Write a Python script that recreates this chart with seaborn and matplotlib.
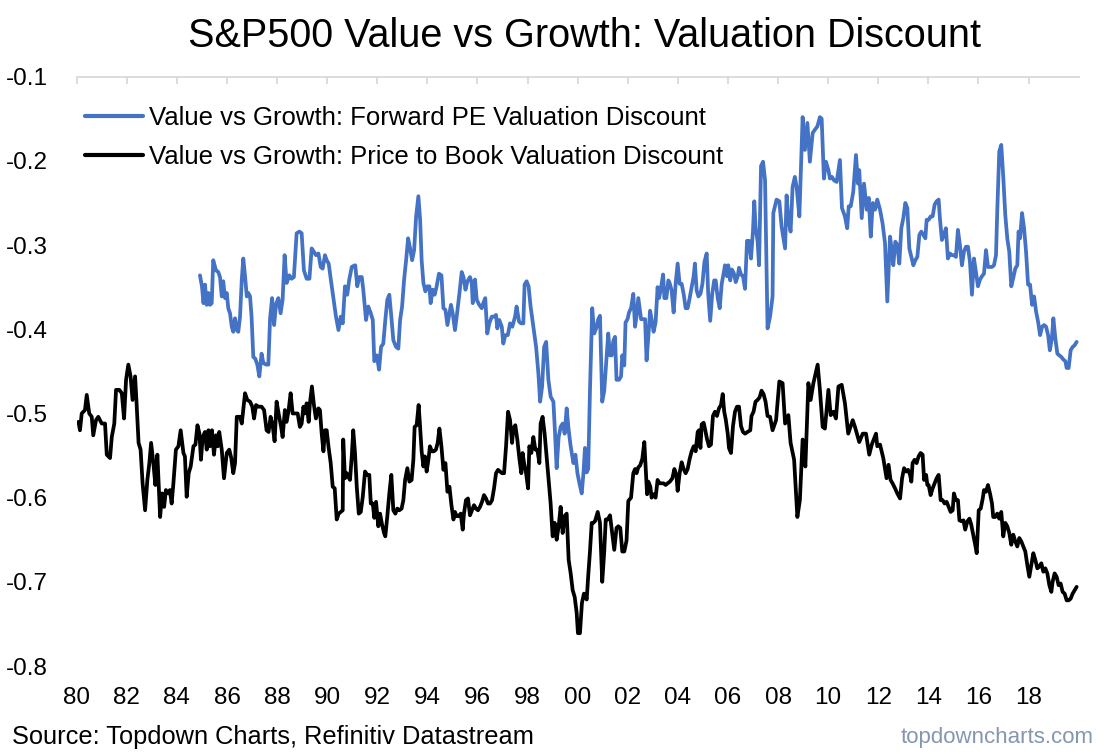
import seaborn as sns
import pandas as pd
import matplotlib
matplotlib.use("Agg")
import matplotlib.pyplot as plt

# Value vs Growth: Forward PE valuation discount (decimal year, value)
pe_years = [
    1984.92, 1985.00, 1985.06, 1985.12, 1985.19, 1985.26, 1985.32, 1985.39, 1985.45, 1985.56,
    1985.65, 1985.72, 1985.79, 1985.85, 1985.92, 1985.99, 1986.05, 1986.12, 1986.19, 1986.25,
    1986.32, 1986.39, 1986.45, 1986.52, 1986.59, 1986.65, 1986.72, 1986.79, 1986.85, 1986.92,
    1986.98, 1987.05, 1987.13, 1987.21, 1987.29, 1987.38, 1987.45, 1987.56, 1987.65, 1987.72,
    1987.80, 1987.88, 1987.96, 1988.05, 1988.14, 1988.22, 1988.30, 1988.38, 1988.49, 1988.58,
    1988.67, 1988.78, 1988.89, 1988.98, 1989.07, 1989.18, 1989.29, 1989.38, 1989.47, 1989.55,
    1989.65, 1989.74, 1989.82, 1989.91, 1989.98, 1990.06, 1990.14, 1990.24, 1990.35, 1990.45,
    1990.54, 1990.62, 1990.71, 1990.80, 1990.88, 1990.98, 1991.04, 1991.12, 1991.20, 1991.28,
    1991.38, 1991.44, 1991.55, 1991.64, 1991.74, 1991.82, 1991.88, 1991.98, 1992.07, 1992.15,
    1992.24, 1992.32, 1992.40, 1992.48, 1992.56, 1992.64, 1992.75, 1992.84, 1992.91, 1992.99,
    1993.07, 1993.15, 1993.23, 1993.31, 1993.39, 1993.47, 1993.55, 1993.64, 1993.71, 1993.77,
    1993.84, 1993.92, 1994.00, 1994.08, 1994.13, 1994.21, 1994.29, 1994.37, 1994.46, 1994.56,
    1994.64, 1994.72, 1994.80, 1994.88, 1994.94, 1995.01, 1995.10, 1995.17, 1995.28, 1995.37,
    1995.44, 1995.52, 1995.60, 1995.70, 1995.77, 1995.81, 1995.90, 1995.97, 1996.07, 1996.17,
    1996.23, 1996.31, 1996.39, 1996.47, 1996.57, 1996.66, 1996.74, 1996.79, 1996.87, 1996.97,
    1997.03, 1997.11, 1997.21, 1997.30, 1997.39, 1997.50, 1997.56, 1997.66, 1997.74, 1997.83,
    1997.88, 1997.96, 1998.04, 1998.12, 1998.23, 1998.34, 1998.43, 1998.50, 1998.58, 1998.66,
    1998.74, 1998.83, 1998.92, 1999.03, 1999.09, 1999.16, 1999.24, 1999.32, 1999.40, 1999.48,
    1999.56, 1999.64, 1999.72, 1999.83, 1999.91, 1999.99, 2000.07, 2000.16, 2000.23, 2000.29,
    2000.36, 2000.42, 2000.49, 2000.58, 2000.66, 2000.76, 2000.82, 2000.89, 2000.98, 2001.06,
    2001.16, 2001.22, 2001.29, 2001.36, 2001.42, 2001.49, 2001.55, 2001.65, 2001.73, 2001.78,
    2001.86, 2001.91, 2001.99, 2002.05, 2002.13, 2002.22, 2002.29, 2002.35, 2002.42, 2002.53,
    2002.62, 2002.69, 2002.75, 2002.82, 2002.89, 2002.95, 2003.03, 2003.11, 2003.19, 2003.25,
    2003.33, 2003.41, 2003.46, 2003.54, 2003.62, 2003.68, 2003.75, 2003.83, 2003.91, 2003.99,
    2004.07, 2004.15, 2004.23, 2004.31, 2004.39, 2004.47, 2004.55, 2004.63, 2004.68, 2004.75,
    2004.82, 2004.90, 2004.98, 2005.06, 2005.15, 2005.21, 2005.29, 2005.37, 2005.45, 2005.51,
    2005.59, 2005.67, 2005.75, 2005.83, 2005.88, 2005.96, 2006.01, 2006.09, 2006.15, 2006.23,
    2006.31, 2006.39, 2006.44, 2006.52, 2006.60, 2006.68, 2006.76, 2006.84, 2006.92, 2007.00,
    2007.05, 2007.10, 2007.18, 2007.24, 2007.32, 2007.40, 2007.48, 2007.58, 2007.68, 2007.78,
    2007.81, 2007.94, 2008.05, 2008.14, 2008.28, 2008.34, 2008.41, 2008.50, 2008.58, 2008.67,
    2008.74, 2008.85, 2008.98, 2009.07, 2009.17, 2009.27, 2009.38, 2009.47, 2009.57, 2009.67,
    2009.74, 2009.83, 2009.91, 2010.01, 2010.07, 2010.15, 2010.23, 2010.34, 2010.47, 2010.55,
    2010.67, 2010.76, 2010.82, 2010.90, 2011.00, 2011.11, 2011.19, 2011.24, 2011.34, 2011.43,
    2011.54, 2011.62, 2011.70, 2011.78, 2011.87, 2011.96, 2012.07, 2012.17, 2012.27, 2012.36,
    2012.40, 2012.47, 2012.53, 2012.60, 2012.68, 2012.76, 2012.84, 2012.92, 2013.00, 2013.08,
    2013.16, 2013.24, 2013.32, 2013.40, 2013.48, 2013.56, 2013.64, 2013.72, 2013.80, 2013.88,
    2013.93, 2014.01, 2014.09, 2014.17, 2014.25, 2014.33, 2014.41, 2014.46, 2014.54, 2014.62,
    2014.70, 2014.78, 2014.86, 2014.94, 2015.02, 2015.10, 2015.18, 2015.26, 2015.34, 2015.42,
    2015.50, 2015.58, 2015.66, 2015.74, 2015.82, 2015.90, 2015.98, 2016.06, 2016.14, 2016.22,
    2016.30, 2016.38, 2016.46, 2016.54, 2016.62, 2016.70, 2016.75, 2016.83, 2016.91, 2016.99,
    2017.07, 2017.15, 2017.23, 2017.31, 2017.39, 2017.47, 2017.55, 2017.60, 2017.66, 2017.74,
    2017.82, 2017.90, 2017.98, 2018.06, 2018.14, 2018.22, 2018.30, 2018.38, 2018.46, 2018.54,
    2018.62, 2018.70, 2018.78, 2018.85, 2018.93, 2018.99, 2019.07, 2019.15, 2019.23, 2019.31,
    2019.39, 2019.47, 2019.52, 2019.60, 2019.68, 2019.76, 2019.84, 2019.92,
]
pe_values = [
    -0.336, -0.349, -0.369, -0.347, -0.371, -0.357, -0.371, -0.369, -0.318, -0.330,
    -0.332, -0.338, -0.361, -0.343, -0.363, -0.357, -0.375, -0.381, -0.397, -0.403,
    -0.387, -0.401, -0.403, -0.385, -0.341, -0.316, -0.337, -0.361, -0.357, -0.361,
    -0.385, -0.433, -0.435, -0.442, -0.456, -0.429, -0.440, -0.442, -0.442, -0.387,
    -0.363, -0.395, -0.370, -0.363, -0.381, -0.365, -0.312, -0.345, -0.336, -0.340,
    -0.338, -0.286, -0.284, -0.286, -0.330, -0.340, -0.340, -0.304, -0.308, -0.312,
    -0.310, -0.326, -0.328, -0.312, -0.318, -0.322, -0.340, -0.361, -0.385, -0.401,
    -0.385, -0.393, -0.349, -0.359, -0.341, -0.326, -0.325, -0.324, -0.349, -0.338,
    -0.338, -0.353, -0.389, -0.373, -0.381, -0.389, -0.438, -0.431, -0.448, -0.421,
    -0.417, -0.389, -0.365, -0.359, -0.385, -0.413, -0.421, -0.423, -0.389, -0.373,
    -0.341, -0.318, -0.292, -0.304, -0.318, -0.306, -0.266, -0.242, -0.270, -0.318,
    -0.345, -0.355, -0.349, -0.349, -0.369, -0.353, -0.359, -0.349, -0.334, -0.336,
    -0.375, -0.377, -0.395, -0.381, -0.371, -0.381, -0.401, -0.385, -0.357, -0.332,
    -0.338, -0.353, -0.343, -0.338, -0.345, -0.369, -0.341, -0.365, -0.371, -0.375,
    -0.369, -0.363, -0.405, -0.393, -0.385, -0.385, -0.383, -0.399, -0.389, -0.397,
    -0.417, -0.407, -0.407, -0.393, -0.397, -0.385, -0.373, -0.391, -0.393, -0.393,
    -0.347, -0.343, -0.349, -0.373, -0.397, -0.421, -0.452, -0.486, -0.468, -0.421,
    -0.415, -0.460, -0.480, -0.486, -0.520, -0.565, -0.528, -0.516, -0.512, -0.524,
    -0.494, -0.520, -0.539, -0.559, -0.549, -0.571, -0.583, -0.595, -0.571, -0.541,
    -0.570, -0.566, -0.473, -0.375, -0.405, -0.397, -0.388, -0.384, -0.486, -0.473,
    -0.431, -0.405, -0.431, -0.431, -0.414, -0.409, -0.460, -0.460, -0.456, -0.431,
    -0.443, -0.392, -0.388, -0.380, -0.375, -0.358, -0.397, -0.384, -0.363, -0.388,
    -0.388, -0.388, -0.437, -0.409, -0.378, -0.388, -0.403, -0.392, -0.350, -0.363,
    -0.350, -0.335, -0.363, -0.363, -0.342, -0.346, -0.354, -0.380, -0.346, -0.322,
    -0.346, -0.346, -0.358, -0.375, -0.375, -0.363, -0.350, -0.337, -0.322, -0.354,
    -0.361, -0.358, -0.346, -0.320, -0.310, -0.358, -0.390, -0.358, -0.342, -0.342,
    -0.363, -0.375, -0.346, -0.333, -0.324, -0.337, -0.324, -0.342, -0.329, -0.333,
    -0.344, -0.337, -0.327, -0.335, -0.337, -0.352, -0.295, -0.295, -0.316, -0.282,
    -0.248, -0.278, -0.295, -0.324, -0.206, -0.201, -0.223, -0.399, -0.385, -0.361,
    -0.262, -0.246, -0.248, -0.278, -0.304, -0.241, -0.270, -0.284, -0.231, -0.219,
    -0.231, -0.266, -0.148, -0.187, -0.155, -0.201, -0.167, -0.163, -0.159, -0.148,
    -0.150, -0.221, -0.201, -0.211, -0.221, -0.219, -0.223, -0.225, -0.199, -0.256,
    -0.266, -0.280, -0.254, -0.254, -0.237, -0.193, -0.227, -0.211, -0.268, -0.227,
    -0.258, -0.244, -0.290, -0.250, -0.258, -0.246, -0.258, -0.274, -0.298, -0.367,
    -0.339, -0.290, -0.304, -0.324, -0.296, -0.300, -0.322, -0.280, -0.268, -0.250,
    -0.256, -0.304, -0.314, -0.324, -0.318, -0.314, -0.288, -0.284, -0.288, -0.292,
    -0.270, -0.270, -0.266, -0.266, -0.252, -0.248, -0.246, -0.268, -0.294, -0.288,
    -0.280, -0.316, -0.310, -0.312, -0.312, -0.314, -0.282, -0.300, -0.324, -0.308,
    -0.302, -0.302, -0.320, -0.359, -0.316, -0.332, -0.349, -0.341, -0.337, -0.334,
    -0.306, -0.326, -0.326, -0.326, -0.324, -0.312, -0.260, -0.189, -0.181, -0.219,
    -0.264, -0.292, -0.308, -0.349, -0.339, -0.328, -0.324, -0.284, -0.292, -0.262,
    -0.280, -0.308, -0.347, -0.347, -0.371, -0.361, -0.379, -0.391, -0.407, -0.397,
    -0.395, -0.397, -0.407, -0.425, -0.411, -0.387, -0.411, -0.429, -0.431, -0.433,
    -0.436, -0.438, -0.446, -0.446, -0.425, -0.421, -0.419, -0.415,
]

# Value vs Growth: Price to Book valuation discount (decimal year, value)
pb_years = [
    1980.07, 1980.13, 1980.20, 1980.33, 1980.40, 1980.50, 1980.60, 1980.66, 1980.77, 1980.86,
    1981.00, 1981.13, 1981.20, 1981.33, 1981.40, 1981.50, 1981.57, 1981.70, 1981.80, 1981.89,
    1981.97, 1982.06, 1982.15, 1982.23, 1982.33, 1982.39, 1982.47, 1982.55, 1982.63, 1982.73,
    1982.82, 1982.90, 1982.97, 1983.06, 1983.14, 1983.22, 1983.33, 1983.41, 1983.49, 1983.56,
    1983.66, 1983.72, 1983.79, 1983.86, 1983.96, 1984.06, 1984.15, 1984.26, 1984.32, 1984.39,
    1984.47, 1984.55, 1984.66, 1984.74, 1984.82, 1984.90, 1984.96, 1985.03, 1985.12, 1985.19,
    1985.26, 1985.32, 1985.40, 1985.48, 1985.56, 1985.63, 1985.69, 1985.79, 1985.88, 1985.99,
    1986.09, 1986.17, 1986.25, 1986.32, 1986.39, 1986.52, 1986.59, 1986.72, 1986.81, 1986.92,
    1987.01, 1987.08, 1987.16, 1987.25, 1987.38, 1987.48, 1987.58, 1987.66, 1987.74, 1987.82,
    1987.90, 1987.98, 1988.06, 1988.16, 1988.22, 1988.31, 1988.38, 1988.46, 1988.54, 1988.62,
    1988.71, 1988.82, 1988.91, 1988.98, 1989.05, 1989.11, 1989.18, 1989.26, 1989.31, 1989.39,
    1989.47, 1989.55, 1989.65, 1989.71, 1989.78, 1989.85, 1989.91, 1989.98, 1990.05, 1990.14,
    1990.22, 1990.30, 1990.38, 1990.46, 1990.54, 1990.62, 1990.64, 1990.71, 1990.78, 1990.84,
    1990.91, 1990.98, 1991.04, 1991.11, 1991.18, 1991.26, 1991.34, 1991.42, 1991.51, 1991.60,
    1991.68, 1991.74, 1991.82, 1991.88, 1991.95, 1992.04, 1992.11, 1992.19, 1992.27, 1992.32,
    1992.40, 1992.48, 1992.56, 1992.64, 1992.72, 1992.80, 1992.88, 1992.97, 1993.04, 1993.11,
    1993.20, 1993.28, 1993.37, 1993.44, 1993.49, 1993.57, 1993.65, 1993.70, 1993.77, 1993.84,
    1993.90, 1993.97, 1994.05, 1994.10, 1994.18, 1994.26, 1994.34, 1994.41, 1994.48, 1994.56,
    1994.64, 1994.72, 1994.80, 1994.88, 1994.96, 1995.04, 1995.10, 1995.17, 1995.25, 1995.33,
    1995.41, 1995.46, 1995.54, 1995.62, 1995.70, 1995.78, 1995.86, 1995.94, 1996.02, 1996.10,
    1996.18, 1996.26, 1996.34, 1996.42, 1996.50, 1996.58, 1996.66, 1996.74, 1996.82, 1996.90,
    1996.98, 1997.06, 1997.14, 1997.22, 1997.30, 1997.38, 1997.43, 1997.51, 1997.59, 1997.67,
    1997.75, 1997.80, 1997.86, 1997.94, 1998.02, 1998.07, 1998.15, 1998.23, 1998.31, 1998.39,
    1998.47, 1998.52, 1998.60, 1998.68, 1998.76, 1998.84, 1998.92, 1999.00, 1999.08, 1999.16,
    1999.24, 1999.32, 1999.40, 1999.48, 1999.56, 1999.64, 1999.72, 1999.80, 1999.88, 1999.96,
    2000.01, 2000.09, 2000.17, 2000.25, 2000.29, 2000.36, 2000.42, 2000.49, 2000.56, 2000.62,
    2000.69, 2000.80, 2000.89, 2000.98, 2001.06, 2001.12, 2001.20, 2001.29, 2001.38, 2001.46,
    2001.55, 2001.62, 2001.70, 2001.78, 2001.86, 2001.95, 2002.02, 2002.13, 2002.22, 2002.29,
    2002.35, 2002.42, 2002.49, 2002.58, 2002.66, 2002.71, 2002.77, 2002.82, 2002.90, 2002.95,
    2003.03, 2003.11, 2003.19, 2003.27, 2003.35, 2003.43, 2003.51, 2003.59, 2003.68, 2003.78,
    2003.86, 2003.94, 2003.99, 2004.07, 2004.15, 2004.23, 2004.31, 2004.39, 2004.47, 2004.55,
    2004.63, 2004.71, 2004.79, 2004.84, 2004.90, 2004.95, 2005.03, 2005.08, 2005.16, 2005.24,
    2005.32, 2005.40, 2005.48, 2005.56, 2005.64, 2005.72, 2005.79, 2005.85, 2005.91, 2005.99,
    2006.04, 2006.12, 2006.20, 2006.28, 2006.36, 2006.44, 2006.52, 2006.60, 2006.68, 2006.78,
    2006.89, 2006.94, 2007.02, 2007.10, 2007.18, 2007.26, 2007.34, 2007.42, 2007.50, 2007.58,
    2007.68, 2007.78, 2007.92, 2008.05, 2008.18, 2008.28, 2008.41, 2008.50, 2008.64, 2008.77,
    2008.87, 2008.98, 2009.09, 2009.21, 2009.30, 2009.41, 2009.58, 2009.67, 2009.78, 2009.87,
    2010.01, 2010.10, 2010.21, 2010.31, 2010.41, 2010.54, 2010.67, 2010.80, 2010.98, 2011.07,
    2011.24, 2011.38, 2011.51, 2011.64, 2011.74, 2011.91, 2011.96, 2012.07, 2012.20, 2012.33,
    2012.41, 2012.49, 2012.57, 2012.67, 2012.76, 2012.87, 2012.95, 2013.03, 2013.11, 2013.19,
    2013.27, 2013.32, 2013.37, 2013.45, 2013.53, 2013.61, 2013.69, 2013.77, 2013.83, 2013.91,
    2013.96, 2014.01, 2014.09, 2014.17, 2014.25, 2014.33, 2014.41, 2014.49, 2014.57, 2014.65,
    2014.73, 2014.81, 2014.89, 2014.97, 2015.02, 2015.10, 2015.18, 2015.24, 2015.32, 2015.40,
    2015.47, 2015.56, 2015.64, 2015.71, 2015.79, 2015.87, 2015.93, 2016.01, 2016.09, 2016.17,
    2016.22, 2016.30, 2016.38, 2016.46, 2016.54, 2016.59, 2016.67, 2016.75, 2016.83, 2016.91,
    2016.99, 2017.07, 2017.15, 2017.23, 2017.31, 2017.39, 2017.47, 2017.55, 2017.63, 2017.71,
    2017.79, 2017.87, 2017.95, 2018.03, 2018.11, 2018.19, 2018.27, 2018.35, 2018.43, 2018.51,
    2018.59, 2018.67, 2018.75, 2018.83, 2018.91, 2018.96, 2019.04, 2019.12, 2019.20, 2019.28,
    2019.36, 2019.44, 2019.52, 2019.60, 2019.68, 2019.76, 2019.84, 2019.92,
]
pb_values = [
    -0.510, -0.520, -0.500, -0.496, -0.478, -0.500, -0.504, -0.526, -0.508, -0.504,
    -0.512, -0.512, -0.549, -0.553, -0.528, -0.512, -0.472, -0.472, -0.476, -0.506,
    -0.460, -0.442, -0.456, -0.484, -0.456, -0.488, -0.535, -0.543, -0.583, -0.615,
    -0.579, -0.559, -0.535, -0.559, -0.585, -0.549, -0.623, -0.595, -0.611, -0.591,
    -0.595, -0.591, -0.607, -0.583, -0.543, -0.539, -0.520, -0.547, -0.551, -0.599,
    -0.571, -0.563, -0.539, -0.537, -0.514, -0.524, -0.555, -0.528, -0.522, -0.543,
    -0.520, -0.539, -0.520, -0.549, -0.526, -0.539, -0.522, -0.543, -0.577, -0.547,
    -0.543, -0.553, -0.571, -0.559, -0.504, -0.504, -0.512, -0.476, -0.484, -0.486,
    -0.492, -0.506, -0.490, -0.492, -0.492, -0.496, -0.520, -0.522, -0.504, -0.514,
    -0.533, -0.486, -0.500, -0.516, -0.528, -0.496, -0.510, -0.496, -0.476, -0.500,
    -0.500, -0.500, -0.516, -0.512, -0.492, -0.500, -0.488, -0.510, -0.488, -0.468,
    -0.490, -0.506, -0.494, -0.496, -0.524, -0.545, -0.520, -0.520, -0.539, -0.559,
    -0.587, -0.589, -0.626, -0.619, -0.617, -0.615, -0.531, -0.577, -0.571, -0.575,
    -0.579, -0.551, -0.520, -0.547, -0.587, -0.619, -0.617, -0.599, -0.569, -0.573,
    -0.573, -0.607, -0.607, -0.624, -0.605, -0.634, -0.619, -0.632, -0.642, -0.646,
    -0.622, -0.595, -0.573, -0.615, -0.619, -0.613, -0.615, -0.613, -0.603, -0.579,
    -0.565, -0.581, -0.579, -0.555, -0.516, -0.514, -0.490, -0.512, -0.545, -0.563,
    -0.551, -0.569, -0.553, -0.539, -0.545, -0.545, -0.543, -0.535, -0.518, -0.539,
    -0.567, -0.559, -0.593, -0.587, -0.609, -0.626, -0.617, -0.622, -0.622, -0.619,
    -0.638, -0.619, -0.603, -0.601, -0.621, -0.615, -0.609, -0.613, -0.615, -0.611,
    -0.605, -0.597, -0.601, -0.607, -0.607, -0.603, -0.589, -0.571, -0.567, -0.569,
    -0.571, -0.571, -0.539, -0.498, -0.508, -0.535, -0.518, -0.514, -0.531, -0.553,
    -0.571, -0.547, -0.559, -0.571, -0.589, -0.539, -0.547, -0.528, -0.543, -0.543,
    -0.559, -0.512, -0.504, -0.524, -0.551, -0.579, -0.607, -0.646, -0.630, -0.650,
    -0.634, -0.611, -0.642, -0.622, -0.619, -0.674, -0.690, -0.710, -0.718, -0.737,
    -0.761, -0.761, -0.725, -0.714, -0.715, -0.721, -0.693, -0.664, -0.630, -0.630,
    -0.628, -0.617, -0.630, -0.700, -0.664, -0.626, -0.626, -0.621, -0.643, -0.662,
    -0.636, -0.634, -0.636, -0.664, -0.664, -0.651, -0.604, -0.600, -0.571, -0.566,
    -0.571, -0.564, -0.562, -0.554, -0.534, -0.562, -0.596, -0.581, -0.587, -0.600,
    -0.596, -0.600, -0.579, -0.583, -0.583, -0.583, -0.585, -0.583, -0.581, -0.577,
    -0.566, -0.573, -0.592, -0.571, -0.558, -0.566, -0.571, -0.566, -0.554, -0.545,
    -0.539, -0.545, -0.522, -0.520, -0.541, -0.513, -0.511, -0.518, -0.530, -0.539,
    -0.537, -0.503, -0.498, -0.503, -0.494, -0.490, -0.477, -0.498, -0.507, -0.524,
    -0.541, -0.547, -0.515, -0.498, -0.492, -0.492, -0.515, -0.522, -0.524, -0.522,
    -0.520, -0.503, -0.498, -0.486, -0.484, -0.481, -0.473, -0.477, -0.486, -0.503,
    -0.504, -0.520, -0.508, -0.462, -0.464, -0.512, -0.502, -0.535, -0.555, -0.623,
    -0.603, -0.531, -0.563, -0.464, -0.484, -0.464, -0.442, -0.472, -0.516, -0.518,
    -0.472, -0.502, -0.498, -0.506, -0.468, -0.466, -0.488, -0.524, -0.508, -0.516,
    -0.534, -0.524, -0.524, -0.549, -0.537, -0.524, -0.539, -0.537, -0.553, -0.577,
    -0.561, -0.579, -0.583, -0.589, -0.595, -0.601, -0.577, -0.565, -0.569, -0.567,
    -0.573, -0.581, -0.559, -0.555, -0.559, -0.551, -0.547, -0.549, -0.579, -0.573,
    -0.585, -0.585, -0.597, -0.589, -0.583, -0.577, -0.573, -0.603, -0.603, -0.607,
    -0.605, -0.611, -0.617, -0.615, -0.595, -0.603, -0.603, -0.627, -0.628, -0.627,
    -0.638, -0.628, -0.625, -0.632, -0.644, -0.656, -0.666, -0.615, -0.613, -0.601,
    -0.591, -0.593, -0.585, -0.595, -0.607, -0.623, -0.623, -0.619, -0.625, -0.617,
    -0.646, -0.630, -0.634, -0.642, -0.656, -0.644, -0.652, -0.658, -0.648, -0.652,
    -0.658, -0.664, -0.680, -0.694, -0.680, -0.666, -0.674, -0.684, -0.682, -0.678,
    -0.688, -0.684, -0.690, -0.704, -0.712, -0.700, -0.690, -0.694, -0.704, -0.702,
    -0.712, -0.714, -0.722, -0.722, -0.720, -0.714, -0.710, -0.706,
]

pe_label = "Value vs Growth: Forward PE Valuation Discount"
pb_label = "Value vs Growth: Price to Book Valuation Discount"
x_ticks = list(range(1980, 2019, 2))
x_tick_labels = ["80", "82", "84", "86", "88", "90", "92", "94", "96", "98",
                 "00", "02", "04", "06", "08", "10", "12", "14", "16", "18"]
y_ticks = [-0.8, -0.7, -0.6, -0.5, -0.4, -0.3, -0.2, -0.1]
y_tick_labels = ["-0.8", "-0.7", "-0.6", "-0.5", "-0.4", "-0.3", "-0.2", "-0.1"]

pe_df = pd.DataFrame({"year": pe_years, "value": pe_values})
pb_df = pd.DataFrame({"year": pb_years, "value": pb_values})

sns.set_style("white")
plt.rcParams["font.family"] = ["Liberation Sans", "DejaVu Sans"]
plt.rcParams["text.color"] = "black"
plt.rcParams["xtick.color"] = "black"
plt.rcParams["ytick.color"] = "black"

fig = plt.figure(figsize=(11.07, 7.54), dpi=100)
ax = fig.add_axes([0.0693, 0.1167, 0.9051, 0.7816])

sns.lineplot(data=pe_df, x="year", y="value", ax=ax, color="#4472C4",
             linewidth=2.7, label=pe_label, estimator=None, sort=False)
sns.lineplot(data=pb_df, x="year", y="value", ax=ax, color="#000000",
             linewidth=2.7, label=pb_label, estimator=None, sort=False)

ax.set_xlim(1980, 2020)
ax.set_ylim(-0.8, -0.1)
ax.set_xticks(x_ticks)
ax.set_xticklabels(x_tick_labels)
ax.set_yticks(y_ticks)
ax.set_yticklabels(y_tick_labels)
ax.set_xlabel("")
ax.set_ylabel("")

for side in ["bottom", "left", "right"]:
    ax.spines[side].set_visible(False)
ax.spines["top"].set_visible(True)
ax.spines["top"].set_color("#d9d9d9")
ax.spines["top"].set_linewidth(1.3)

ax.tick_params(axis="x", bottom=False, top=True, direction="in", length=5,
               width=1.3, color="#d9d9d9", labelbottom=True, labeltop=False,
               labelsize=17.5, pad=15, labelcolor="black")
ax.tick_params(axis="y", left=False, labelsize=17.5, pad=17, labelcolor="black")

leg = ax.legend(loc="upper left", bbox_to_anchor=(0.0768, 0.859),
                bbox_transform=fig.transFigure, frameon=False, fontsize=18.5,
                handlelength=2.25, handletextpad=0.25, labelspacing=0.58,
                borderpad=0, borderaxespad=0)
for line in leg.get_lines():
    line.set_linewidth(3)

fig.text(0.528, 0.952, "S&P500 Value vs Growth: Valuation Discount",
         ha="center", va="center", fontsize=28.5)
fig.text(0.011, 0.022, "Source: Topdown Charts, Refinitiv Datastream",
         ha="left", va="center", fontsize=18.3)
fig.text(0.988, 0.022, "topdowncharts.com", ha="right", va="center",
         fontsize=16, color="#8496b0")

fig.savefig("out.png", dpi=100)
